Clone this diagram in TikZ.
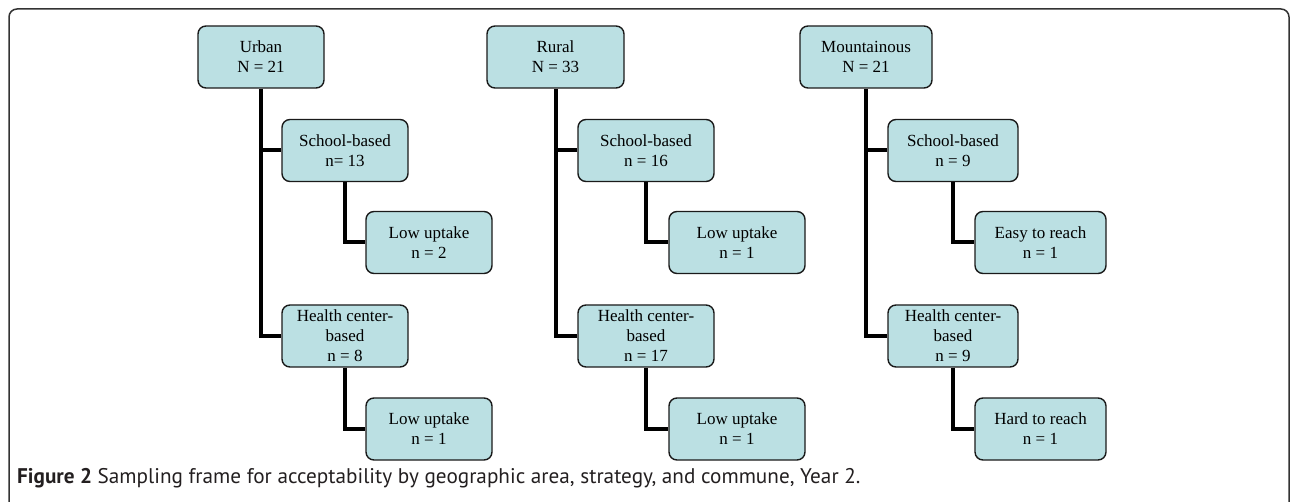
\documentclass[tikz,border=0pt]{standalone}
\usepackage{fontspec}
\setmainfont{Liberation Serif}
\newfontfamily\capfont{PT Sans}
\definecolor{boxfill}{HTML}{BBE0E3}
\definecolor{boxline}{HTML}{1A1A1A}
\definecolor{captext}{HTML}{231F20}
\tikzset{
  tbox/.style={draw=boxline, line width=1.4pt, fill=boxfill, rounded corners=8pt,
    minimum height=62pt, inner sep=0pt, align=center,
    font=\fontsize{17}{20}\selectfont},
  link/.style={line width=4pt, black, line join=miter}
}
\begin{document}
\begin{tikzpicture}[x=1pt,y=-1pt]
\useasboundingbox (0,0) rectangle (1290,502);
\begin{scope}
\clip (0,0) rectangle (1290,502);
\draw[line width=1.5pt, draw=black!80, rounded corners=8pt] (9,9) rectangle (1289,520);
\end{scope}
% Column 1
\node[tbox, minimum width=126pt] (u)  at (261,57)    {Urban\\N = 21};
\node[tbox, minimum width=126pt] (us) at (345,150.5) {School-based\\n= 13};
\node[tbox, minimum width=126pt] (usl) at (429,242.5) {Low uptake\\n = 2};
\node[tbox, minimum width=126pt] (uh) at (345,336)   {Health center-\\based\\n = 8};
\node[tbox, minimum width=126pt] (uhl) at (429,429)  {Low uptake\\n = 1};
% Column 2
\node[tbox, minimum width=137pt] (r)  at (555.5,57)  {Rural\\N = 33};
\node[tbox, minimum width=136pt] (rs) at (646,150.5) {School-based\\n = 16};
\node[tbox, minimum width=136pt] (rsl) at (737,242.5) {Low uptake\\n = 1};
\node[tbox, minimum width=136pt] (rh) at (646,336)   {Health center-\\based\\n = 17};
\node[tbox, minimum width=136pt] (rhl) at (737,429)  {Low uptake\\n = 1};
% Column 3
\node[tbox, minimum width=132pt] (m)  at (866,57)    {Mountainous\\N = 21};
\node[tbox, minimum width=130pt] (ms) at (953,150.5) {School-based\\n = 9};
\node[tbox, minimum width=131pt] (msl) at (1040.5,242.5) {Easy to reach\\n = 1};
\node[tbox, minimum width=130pt] (mh) at (953,336)   {Health center-\\based\\n = 9};
\node[tbox, minimum width=131pt] (mhl) at (1040.5,429) {Hard to reach\\n = 1};
% Connectors
\foreach \p/\a/\b in {u/us/uh, r/rs/rh, m/ms/mh}{
  \draw[link] (\p.south) |- (\b.west);
  \draw[link] (\p.south |- \a.west) -- (\a.west);
}
\foreach \p/\c in {us/usl, uh/uhl, rs/rsl, rh/rhl, ms/msl, mh/mhl}{
  \draw[link] (\p.south) |- (\c.west);
}
% Caption
\node[anchor=base west, inner sep=0pt, text=captext, font=\capfont\fontsize{21.2}{25}\selectfont] (cap) at (17,483)
  {\textbf{Figure 2} Sampling frame for acceptability by geographic area, strategy, and commune, Year 2.};
\end{tikzpicture}
\end{document}
